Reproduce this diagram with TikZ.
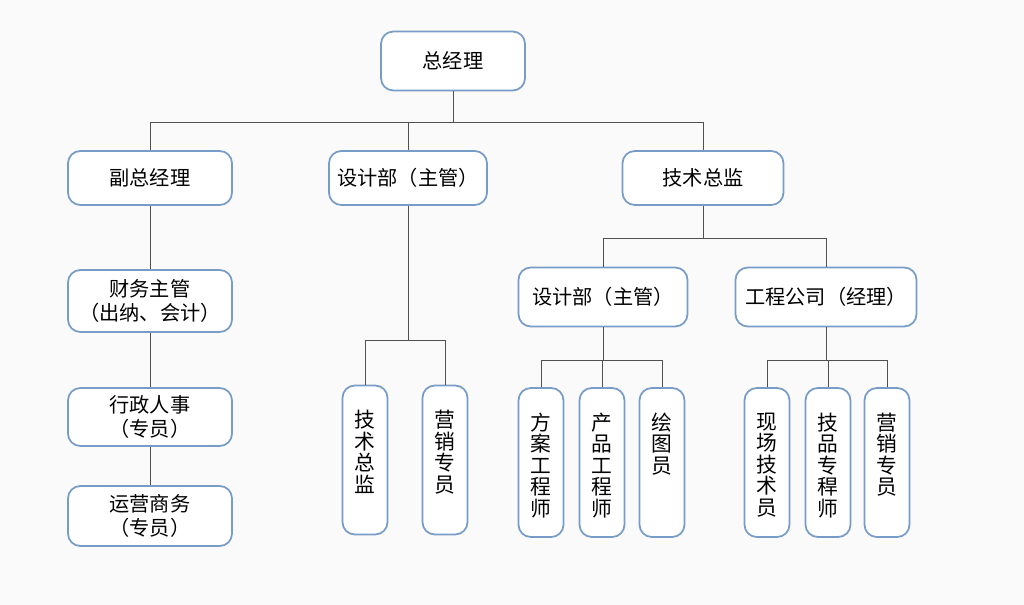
\documentclass[tikz,border=0pt]{standalone}
\usepackage{fontspec}
\setmainfont{Noto Sans CJK SC}
\definecolor{boxline}{RGB}{120,156,200}
\definecolor{wire}{RGB}{80,80,80}
\definecolor{paper}{RGB}{250,250,250}
\newcommand\vtext[1]{\begin{minipage}[c][2.98cm][t]{0.9cm}\centering
  \fontsize{11.8}{12.2}\selectfont\vspace*{0.5cm}#1\end{minipage}}

\begin{document}
\begin{tikzpicture}[%
  post/.style={fill=white,draw=boxline,line width=1pt,rounded corners=7pt,
    align=center,font=\fontsize{11.5}{13.5}\selectfont,inner sep=0pt},
  col/.style={post,minimum width=0.9cm,minimum height=2.98cm},
  link/.style={draw=wire,line width=0.5pt}]
  \fill[paper] (0,0) rectangle (20.48,-12.1);
  \useasboundingbox (0,0) rectangle (20.48,-12.1);
  % top levels
  \node[post,minimum width=2.88cm,minimum height=1.18cm] (gm) at (9.06,-1.22) {总经理};
  \node[post,minimum width=3.28cm,minimum height=1.08cm] (vp) at (3.0,-3.56) {副总经理};
  \node[post,minimum width=3.16cm,minimum height=1.08cm] (dd) at (8.16,-3.56) {设计部（主管）};
  \node[post,minimum width=3.22cm,minimum height=1.08cm] (td) at (14.06,-3.56) {技术总监};
  % left column
  \node[post,minimum width=3.28cm,minimum height=1.24cm] (fin) at (3.0,-6.02) {财务主管\\（出纳、会计）};
  \node[post,minimum width=3.28cm,minimum height=1.16cm] (adm) at (3.0,-8.34) {行政人事\\（专员）};
  \node[post,minimum width=3.28cm,minimum height=1.2cm] (ops) at (3.0,-10.32) {运营商务\\（专员）};
  % design dept
  \node[col] (ddtech) at (7.3,-9.2) {\vtext{技\\术\\总\\监}};
  \node[col] (ddsale) at (8.9,-9.2) {\vtext{营\\销\\专\\员}};
  % technical director
  \node[post,minimum width=3.38cm,minimum height=1.18cm] (dd2) at (12.06,-5.94) {设计部（主管）};
  \node[post,minimum width=3.62cm,minimum height=1.18cm] (eng) at (16.52,-5.94) {工程公司（经理）};
  \node[col] (plan) at (10.82,-9.25) {\vtext{方\\案\\工\\程\\师}};
  \node[col] (prod) at (12.04,-9.25) {\vtext{产\\品\\工\\程\\师}};
  \node[col] (draft) at (13.24,-9.25) {\vtext{绘\\图\\员}};
  \node[col] (site) at (15.34,-9.25) {\vtext{现\\场\\技\\术\\员}};
  \node[col] (tech) at (16.56,-9.25) {\vtext{技\\品\\专\\稈\\师}};
  \node[col] (sale) at (17.74,-9.25) {\vtext{营\\销\\专\\员}};
  % junctions
  \coordinate (j1) at (9.06,-2.44);
  \coordinate (j2) at (8.16,-6.8);
  \coordinate (j3) at (14.06,-4.76);
  \coordinate (j4) at (12.06,-7.2);
  \coordinate (j5) at (16.52,-7.2);
  \path[link] (gm) -- (j1) (j1) -| (vp) (j1) -| (dd) (j1) -| (td);
  \path[link] (vp) -- (fin) (fin) -- (adm) (adm) -- (ops);
  \path[link] (dd) -- (j2) (j2) -| (ddtech) (j2) -| (ddsale);
  \path[link] (td) -- (j3) (j3) -| (dd2) (j3) -| (eng);
  \path[link] (dd2) -- (j4) (j4) -| (plan) (j4) -| (prod) (j4) -| (draft);
  \path[link] (eng) -- (j5) (j5) -| (site) (j5) -| (tech) (j5) -| (sale);
\end{tikzpicture}
\end{document}
